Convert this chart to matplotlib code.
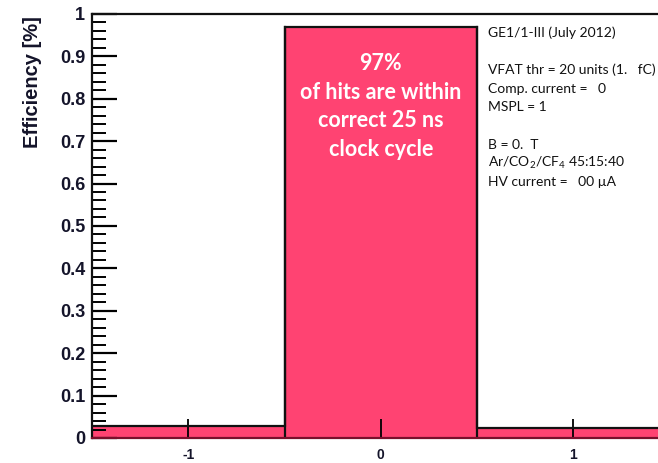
import matplotlib
matplotlib.use("Agg")
import matplotlib.pyplot as plt
from matplotlib.ticker import MultipleLocator

# clock-cycle bins and hit efficiency per bin
bin_edges = [-1.5, -0.5, 0.5, 1.5]
efficiency = [0.029, 0.97, 0.024]
x_ticks = [-1, 0, 1]
in_time_pct = 97

info_lines = [
    ("GE1/1-III (July 2012)", 0.0),
    ("VFAT thr = 20 units (1.   fC)", 2.0),
    ("Comp. current =   0", 3.0),
    ("MSPL = 1", 4.0),
    ("B = 0.  T", 6.0),
    ("Ar/CO$_2$/CF$_4$ 45:15:40", 7.0),
    ("HV current =   00 \u00b5A", 8.0),
]

plt.rcParams["mathtext.fontset"] = "custom"
plt.rcParams["mathtext.rm"] = "Lato"
plt.rcParams["mathtext.default"] = "regular"

pink = "#ff4372"

fig = plt.figure(figsize=(6.58, 4.63), dpi=100)
ax = fig.add_axes([0.1403, 0.054, 0.877, 0.916])

ax.stairs(efficiency, bin_edges, fill=True, color=pink, zorder=1)
ax.stairs(efficiency, bin_edges, color="#111111", lw=1.6, baseline=None, zorder=2)
ax.plot([-0.5, -0.5], [0, efficiency[1]], color="#111111", lw=1.6, zorder=2)
ax.plot([0.5, 0.5], [0, efficiency[1]], color="#111111", lw=1.6, zorder=2)
# repaint fill over the inner vertical lines below the side bins
ax.stairs(efficiency, bin_edges, fill=True, color=pink, zorder=1)

ax.set_xlim(bin_edges[0], bin_edges[-1])
ax.set_ylim(0, 1)

ax.set_xticks(x_ticks)
ax.set_xticklabels([str(t) for t in x_ticks])
ax.yaxis.set_minor_locator(MultipleLocator(0.02))
ax.set_yticks([i / 10 for i in range(11)])
ax.set_yticklabels(["0"] + [f"{v/10:.1f}" for v in range(1, 10)] + ["1"])

ax.tick_params(axis="y", which="major", direction="in", length=18, width=1.6,
               pad=5, labelsize=13, labelcolor="#14142a")
ax.tick_params(axis="y", which="minor", direction="in", length=10, width=1.4)
ax.tick_params(axis="x", which="major", direction="in", length=14, width=1.3,
               pad=7, labelsize=10, labelcolor="#14142a")
for lab in ax.get_xticklabels() + ax.get_yticklabels():
    lab.set_fontweight("bold")
    lab.set_fontfamily("Liberation Sans")

for side in ["left", "top", "right"]:
    ax.spines[side].set_linewidth(1.6)
    ax.spines[side].set_color("#111111")
ax.spines["bottom"].set_color("#7a0f2c")
ax.spines["bottom"].set_linewidth(1.6)

ax.set_ylabel("Efficiency [%]", fontsize=14.5, fontweight="bold",
              fontfamily="Liberation Sans", color="#14142a")
ax.yaxis.set_label_coords(-0.088, 0.84)

ax.text(0, 0.782, f"{in_time_pct}%\nof hits are within\ncorrect 25 ns\nclock cycle",
        ha="center", va="center", color="white", fontsize=15.5, fontweight="bold",
        fontfamily="Lato", linespacing=1.45, zorder=3)

for text, row in info_lines:
    ax.text(0.555, 0.955 - row * 0.0439, text, ha="left", va="center",
            fontsize=10, fontfamily="Lato", color="#111111", zorder=3)

fig.savefig("out.png", dpi=100)
